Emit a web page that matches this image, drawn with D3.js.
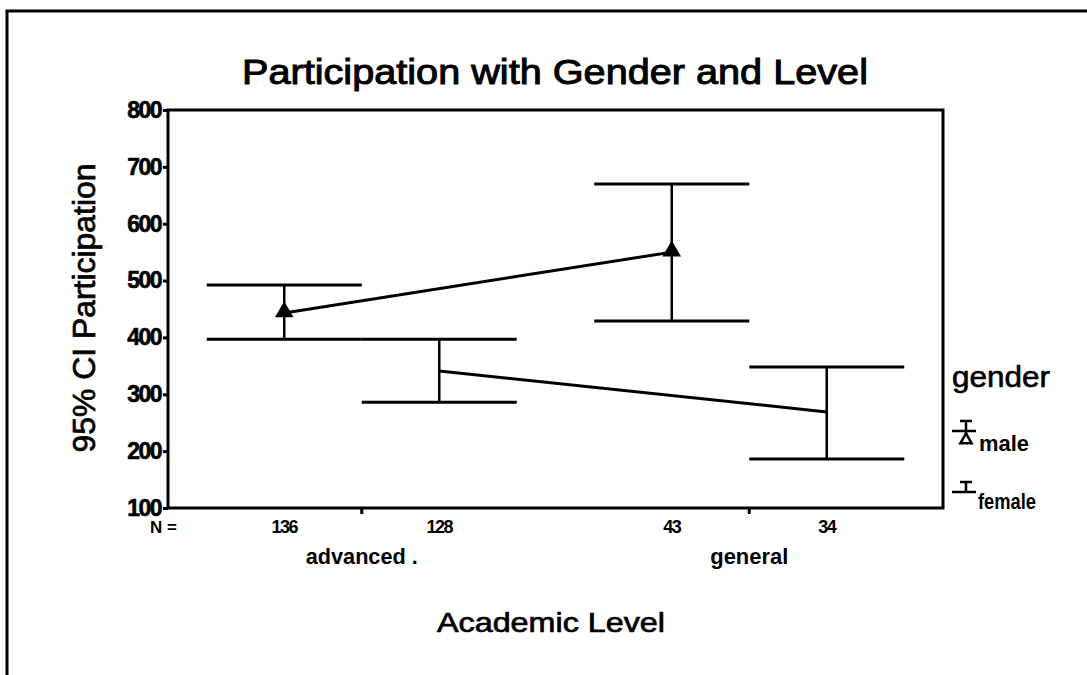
<!DOCTYPE html>
<html>
<head>
<meta charset="utf-8">
<script src="https://cdn.jsdelivr.net/npm/d3@7"></script>
<style>
    body { margin: 0; background: #fff; }
    text { font-family: "Liberation Sans", Arial, sans-serif; fill: #000; }
</style>
</head>
<body>
<div id="chart"></div>
<script>
// values
const levels = ["advanced .", "general"];
const genders = ["male", "female"];
const counts = { male: [136, 43], female: [128, 34] };
const means = { male: [443, 550], female: [341, 269] };
const lower = { male: [397, 429], female: [286, 186] };
const upper = { male: [492, 670], female: [397, 348] };
const yTicks = [100, 200, 300, 400, 500, 600, 700, 800];

const width = 1087, height = 675;
const plot = { left: 168, right: 943, top: 110, bottom: 508 };

const svg = d3.select("#chart")
    .append("svg")
        .attr("width", width)
        .attr("height", height);

svg.append("rect")
    .attr("width", width)
    .attr("height", height)
    .attr("fill", "#fff");

// page frame (scan shows top and left edges only)
svg.append("path")
    .attr("d", "M7," + height + "V11H" + width)
    .attr("fill", "none")
    .attr("stroke", "#000")
    .attr("stroke-width", 3);

const x = d3.scaleBand()
    .domain(levels)
    .range([plot.left, plot.right]);

const xSub = d3.scaleBand()
    .domain(genders)
    .range([-x.bandwidth() * 0.4, x.bandwidth() * 0.4]);

const y = d3.scaleLinear()
    .domain([100, 800])
    .range([plot.bottom, plot.top]);

const cx = (g, i) => x(levels[i]) + x.bandwidth() / 2 + xSub(g) + xSub.bandwidth() / 2;

// box
svg.append("rect")
    .attr("x", plot.left)
    .attr("y", plot.top)
    .attr("width", plot.right - plot.left)
    .attr("height", plot.bottom - plot.top)
    .attr("fill", "none")
    .attr("stroke", "#000")
    .attr("stroke-width", 3);

// y axis
const yAxis = svg.append("g")
    .attr("transform", "translate(" + plot.left + ",0)")
    .call(d3.axisLeft(y).tickValues(yTicks).tickSize(5).tickPadding(2));
yAxis.select(".domain").remove();
yAxis.selectAll(".tick line").attr("stroke-width", 3);
yAxis.selectAll(".tick text")
    .style("font-family", "Liberation Sans, Arial, sans-serif")
    .style("font-size", "23px")
    .style("font-weight", "bold")
    .style("letter-spacing", "-1.5px")
    .attr("stroke", "#000")
    .attr("stroke-width", 0.6)
    .attr("fill", "#000");

// x axis ticks at category centres
const xAxis = svg.append("g")
    .attr("transform", "translate(0," + plot.bottom + ")")
    .call(d3.axisBottom(x).tickSize(6).tickFormat(""));
xAxis.select(".domain").remove();
xAxis.selectAll(".tick line").attr("stroke-width", 3);

// category names
svg.selectAll(".level-name")
    .data(levels)
    .join("text")
        .attr("class", "level-name")
        .attr("x", d => x(d) + x.bandwidth() / 2)
        .attr("y", 564)
        .attr("textLength", d => d === "general" ? 78 : 112)
        .attr("lengthAdjust", "spacingAndGlyphs")
        .style("font-size", "22px")
        .style("font-weight", "bold")
        .style("text-anchor", "middle")
        .text(d => d);

// N = counts
svg.append("text")
    .attr("x", 150)
    .attr("y", 533)
    .style("font-size", "17px")
    .style("font-weight", "bold")
    .text("N =");

const rows = [];
genders.forEach(g => levels.forEach((l, i) => rows.push({
    gender: g, i: i, n: counts[g][i], mean: means[g][i], lo: lower[g][i], hi: upper[g][i]
})));

svg.selectAll(".n-label")
    .data(rows)
    .join("text")
        .attr("class", "n-label")
        .attr("x", d => cx(d.gender, d.i))
        .attr("y", 533)
        .style("font-size", "18px")
        .style("font-weight", "bold")
        .style("letter-spacing", "-1.5px")
        .style("text-anchor", "middle")
        .text(d => d.n);

// error bars
const bars = svg.selectAll(".bar")
    .data(rows)
    .join("g")
        .attr("class", "bar")
        .attr("stroke", "#000");

bars.append("line")
    .attr("x1", d => cx(d.gender, d.i))
    .attr("x2", d => cx(d.gender, d.i))
    .attr("y1", d => y(d.lo))
    .attr("y2", d => y(d.hi))
    .attr("stroke-width", 2.5);

bars.selectAll(".cap")
    .data(d => [d.lo, d.hi].map(v => ({ v: v, c: cx(d.gender, d.i) })))
    .join("line")
        .attr("class", "cap")
        .attr("x1", d => d.c - xSub.bandwidth() / 2)
        .attr("x2", d => d.c + xSub.bandwidth() / 2)
        .attr("y1", d => y(d.v))
        .attr("y2", d => y(d.v))
        .attr("stroke-width", 3);

// mean lines
const line = d3.line()
    .x(d => cx(d.gender, d.i))
    .y(d => y(d.mean));

genders.forEach(g => {
    svg.append("path")
        .datum(rows.filter(r => r.gender === g))
        .attr("d", line)
        .attr("fill", "none")
        .attr("stroke", "#000")
        .attr("stroke-width", 3);
});

// triangle markers for male
const tri = d3.symbol().type(d3.symbolTriangle).size(150);
svg.selectAll(".marker")
    .data(rows.filter(r => r.gender === "male"))
    .join("path")
        .attr("class", "marker")
        .attr("transform", d => "translate(" + cx(d.gender, d.i) + "," + (y(d.mean) - 1) + ")")
        .attr("d", tri)
        .attr("fill", "#000");

// title
svg.append("text")
    .attr("x", 555)
    .attr("y", 84)
    .attr("textLength", 626)
    .attr("lengthAdjust", "spacingAndGlyphs")
    .attr("stroke", "#000")
    .attr("stroke-width", 1)
    .style("font-size", "35px")
    .style("text-anchor", "middle")
    .text("Participation with Gender and Level");

// axis titles
svg.append("text")
    .attr("transform", "translate(95,308) rotate(-90)")
    .attr("textLength", 289)
    .attr("lengthAdjust", "spacingAndGlyphs")
    .attr("stroke", "#000")
    .attr("stroke-width", 0.7)
    .style("font-size", "31px")
    .style("text-anchor", "middle")
    .text("95% CI Participation");

svg.append("text")
    .attr("x", 551)
    .attr("y", 632)
    .attr("textLength", 228)
    .attr("lengthAdjust", "spacingAndGlyphs")
    .attr("stroke", "#000")
    .attr("stroke-width", 0.7)
    .style("font-size", "28px")
    .style("text-anchor", "middle")
    .text("Academic Level");

// legend
const legend = svg.append("g").attr("transform", "translate(952,0)");
legend.append("text")
    .attr("x", 0)
    .attr("y", 387)
    .attr("textLength", 98)
    .attr("lengthAdjust", "spacingAndGlyphs")
    .attr("stroke", "#000")
    .attr("stroke-width", 0.6)
    .style("font-size", "29px")
    .text("gender");

const male = legend.append("g").attr("stroke", "#000").attr("stroke-width", 2.5);
male.append("line").attr("x1", 0).attr("x2", 24).attr("y1", 431).attr("y2", 431);
male.append("line").attr("x1", 8).attr("x2", 20).attr("y1", 421).attr("y2", 421);
male.append("line").attr("x1", 14).attr("x2", 14).attr("y1", 421).attr("y2", 436);
legend.append("path")
    .attr("transform", "translate(14,440)")
    .attr("d", d3.symbol().type(d3.symbolTriangle).size(55))
    .attr("fill", "none")
    .attr("stroke", "#000")
    .attr("stroke-width", 2.5);
legend.append("text")
    .attr("x", 27)
    .attr("y", 451)
    .attr("textLength", 50)
    .attr("lengthAdjust", "spacingAndGlyphs")
    .style("font-size", "22px")
    .style("font-weight", "bold")
    .text("male");

const female = legend.append("g").attr("stroke", "#000").attr("stroke-width", 2.5);
female.append("line").attr("x1", 0).attr("x2", 24).attr("y1", 492).attr("y2", 492);
female.append("line").attr("x1", 8).attr("x2", 20).attr("y1", 482).attr("y2", 482);
female.append("line").attr("x1", 14).attr("x2", 14).attr("y1", 482).attr("y2", 492);
legend.append("text")
    .attr("x", 26)
    .attr("y", 509)
    .attr("textLength", 58)
    .attr("lengthAdjust", "spacingAndGlyphs")
    .style("font-size", "22px")
    .style("font-weight", "bold")
    .text("female");
</script>
</body>
</html>
